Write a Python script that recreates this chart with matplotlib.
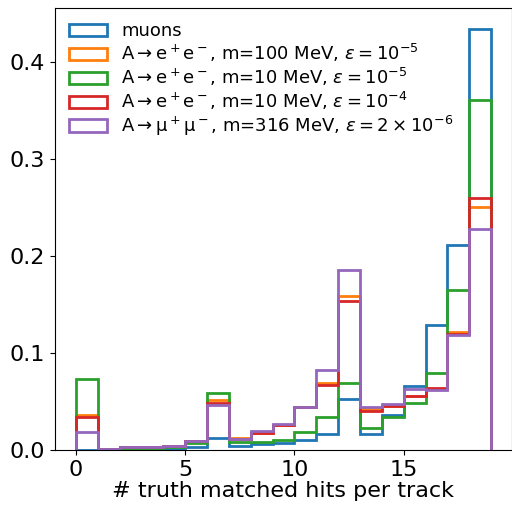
import matplotlib
matplotlib.use("Agg")
import matplotlib.pyplot as plt
import numpy as np

edges = list(range(0, 20))
centers = [e + 0.5 for e in edges[:-1]]

muons = [0.0005, 0.0002, 0.0003, 0.0005, 0.001, 0.0036, 0.0125, 0.0046, 0.0057, 0.007,
         0.0108, 0.016, 0.0528, 0.0167, 0.0356, 0.0662, 0.129, 0.211, 0.434]
ee_100_1e5 = [0.0356, 0.0012, 0.003, 0.0026, 0.0045, 0.0088, 0.052, 0.012, 0.018, 0.026,
              0.044, 0.069, 0.1586, 0.0425, 0.045, 0.056, 0.063, 0.122, 0.251]
ee_10_1e5 = [0.0727, 0.0005, 0.001, 0.001, 0.003, 0.007, 0.059, 0.0085, 0.008, 0.0098,
             0.019, 0.034, 0.0689, 0.023, 0.0338, 0.0487, 0.0796, 0.165, 0.361]
ee_10_1e4 = [0.034, 0.0012, 0.003, 0.0026, 0.0045, 0.0088, 0.0487, 0.0115, 0.0178, 0.026,
             0.044, 0.067, 0.1534, 0.0397, 0.045, 0.056, 0.0637, 0.12, 0.2596]
mumu_316 = [0.019, 0.0013, 0.003, 0.0026, 0.0046, 0.0088, 0.0466, 0.0115, 0.020, 0.027,
            0.044, 0.0827, 0.186, 0.044, 0.0476, 0.0624, 0.062, 0.119, 0.228]

series = [
    (muons, "muons", "#1f77b4"),
    (ee_100_1e5, r"A$\rightarrow$e$^+$e$^-$, m=100 MeV, $\epsilon=10^{-5}$", "#ff7f0e"),
    (ee_10_1e5, r"A$\rightarrow$e$^+$e$^-$, m=10 MeV, $\epsilon=10^{-5}$", "#2ca02c"),
    (ee_10_1e4, r"A$\rightarrow$e$^+$e$^-$, m=10 MeV, $\epsilon=10^{-4}$", "#d62728"),
    (mumu_316, r"A$\rightarrow$μ$^+$μ$^-$, m=316 MeV, $\epsilon=2\times10^{-6}$", "#9467bd"),
]

fig = plt.figure(figsize=(5.12, 5.09), dpi=100)
ax = fig.add_axes([55/512, 59/509, 457/512, 442/509])

for vals, label, color in series:
    ax.hist(centers, bins=edges, weights=vals, histtype="step", color=color,
            linewidth=2, label=label)

ax.set_xticks([0, 5, 10, 15])
ax.set_yticks([0.0, 0.1, 0.2, 0.3, 0.4])
ax.tick_params(labelsize=16)
ax.set_xlabel("# truth matched hits per track", fontsize=16, labelpad=1)
ax.legend(loc="upper left", frameon=False, fontsize=13, handlelength=2.1,
          borderaxespad=0.4, labelspacing=0.1, handletextpad=0.75)

fig.savefig("out.png", dpi=100)
